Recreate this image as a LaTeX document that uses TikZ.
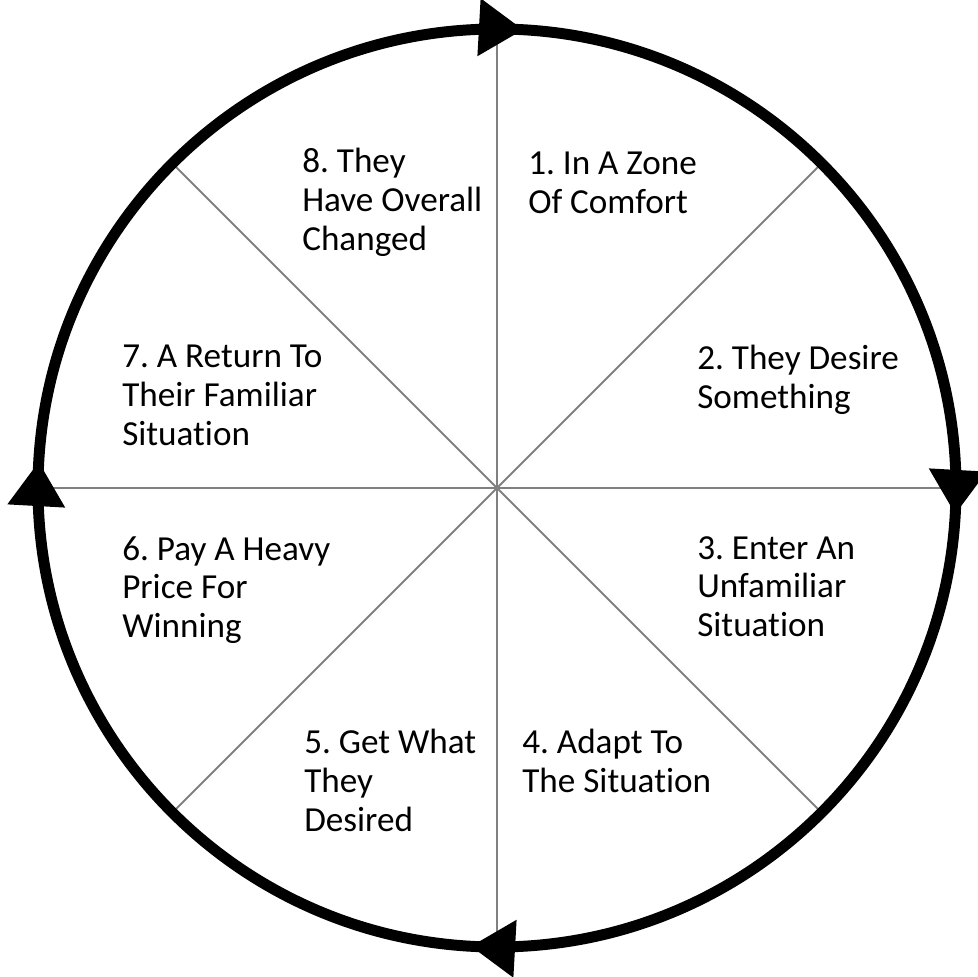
\documentclass[tikz,border=0pt]{standalone}
\usepackage{fontspec}
\setmainfont{Carlito}[Ligatures=NoCommon]
\frenchspacing
\usetikzlibrary{positioning, arrows.meta, decorations.markings}

\begin{document}
\begin{tikzpicture}[x=0.025cm, y=0.025cm,
  spoke/.style={draw=black!50, line width=1.3pt},
  ring/.style={draw=black, line width=7.8pt, postaction={decorate},
    decoration={markings,
      mark=at position 0.009 with {\arrow{Triangle[length=1.1cm, width=1.45cm, line width=0pt]}},
      mark=at position 0.259 with {\arrow{Triangle[length=1.1cm, width=1.45cm, line width=0pt]}},
      mark=at position 0.509 with {\arrow{Triangle[length=1.1cm, width=1.45cm, line width=0pt]}},
      mark=at position 0.759 with {\arrow{Triangle[length=1.1cm, width=1.45cm, line width=0pt]}}}},
  stage/.style={anchor=north west, align=left, inner sep=0pt,
    font=\fontsize{25}{27.5}\selectfont}]
\useasboundingbox (-497,-489) rectangle (480,488);

\coordinate (hub) at (0,0);
\foreach \a in {0,45,...,315}
  \coordinate (rim\a) at (\a:459);

\foreach \a in {0,45,...,315}
  \draw[spoke] (hub) -- (rim\a);

\draw[ring] (rim90) arc[start angle=90, end angle=-270, radius=459];

\node[stage] (s1) at (31,336) {1. In A Zone\\Of Comfort};
\node[stage] (s2) at (200,143) {2. They Desire\\Something};
\node[stage] (s3) at (200,-48) {3. Enter An\\Unfamiliar\\Situation};
\node[stage] (s4) at (25,-241) {4. Adapt To\\The Situation};
\node[stage] (s5) at (-193,-241) {5. Get What\\They\\Desired};
\node[stage] (s6) at (-375,-48) {6. Pay A Heavy\\Price For\\Winning};
\node[stage] (s7) at (-375,143) {7. A Return To\\Their Familiar\\Situation};
\node[stage] (s8) at (-195,340) {8. They\\Have Overall\\Changed};
\end{tikzpicture}
\end{document}
